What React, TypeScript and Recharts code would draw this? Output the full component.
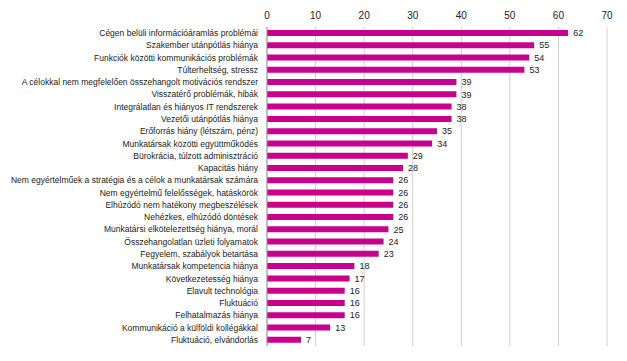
import React from 'react';
import { BarChart, Bar, XAxis, YAxis, CartesianGrid, LabelList } from 'recharts';

const categories = [
  'Cégen belüli információáramlás problémái',
  'Szakember utánpótlás hiánya',
  'Funkciók közötti kommunikációs problémák',
  'Túlterheltség, stressz',
  'A célokkal nem megfelelően összehangolt motivációs rendszer',
  'Visszatérő problémák, hibák',
  'Integrálatlan és hiányos IT rendszerek',
  'Vezetői utánpótlás hiánya',
  'Erőforrás hiány (létszám, pénz)',
  'Munkatársak közötti együttműködés',
  'Bürokrácia, túlzott adminisztráció',
  'Kapacitás hiány',
  'Nem egyértelműek a stratégia és a célok a munkatársak számára',
  'Nem egyértelmű felelősségek, hatáskörök',
  'Elhúzódó nem hatékony megbeszélések',
  'Nehézkes, elhúzódó döntések',
  'Munkatársi elkötelezettség hiánya, morál',
  'Összehangolatlan üzleti folyamatok',
  'Fegyelem, szabályok betartása',
  'Munkatársak kompetencia hiánya',
  'Következetesség hiánya',
  'Elavult technológia',
  'Fluktuáció',
  'Felhatalmazás hiánya',
  'Kommunikáció a külföldi kollégákkal',
  'Fluktuáció, elvándorlás',
];

const values = [62, 55, 54, 53, 39, 39, 38, 38, 35, 34, 29, 28, 26, 26, 26, 26, 25, 24, 23, 18, 17, 16, 16, 16, 13, 7];

const xTicks = [0, 10, 20, 30, 40, 50, 60, 70];

const data = categories.map((name, i) => ({ name, value: values[i] }));

const font = 'Liberation Sans, Arial, sans-serif';

// single-line category label (recharts would wrap the long ones)
const CategoryTick = ({ x, y, payload }: any) => (
  <text x={x - 1} y={y} dy={3} textAnchor="end" fontSize={8.5} fill="#222" fontFamily={font}>
    {payload.value}
  </text>
);

export default function App() {
  return (
    <div style={{ position: 'absolute', left: 0, top: 0, width: 627, height: 361, background: '#fff' }}>
      <BarChart
        width={627}
        height={361}
        data={data}
        layout="vertical"
        margin={{ top: 7, right: 20, left: 0, bottom: 15 }}
        barCategoryGap="50%"
      >
        <CartesianGrid horizontal={false} stroke="#d0d0d0" />
        <XAxis
          type="number"
          orientation="top"
          domain={[0, 70]}
          ticks={xTicks}
          height={20}
          axisLine={false}
          tickLine={false}
          tick={{ fontSize: 10, fill: '#222', fontFamily: font }}
        />
        <YAxis
          type="category"
          dataKey="name"
          width={267}
          interval={0}
          tickLine={false}
          axisLine={{ stroke: '#999' }}
          tick={<CategoryTick />}
        />
        <Bar dataKey="value" fill="#C8008C" barSize={6} isAnimationActive={false}>
          <LabelList
            dataKey="value"
            position="right"
            offset={5}
            style={{ fontSize: 9, fill: '#222', fontFamily: font }}
          />
        </Bar>
      </BarChart>
    </div>
  );
}
